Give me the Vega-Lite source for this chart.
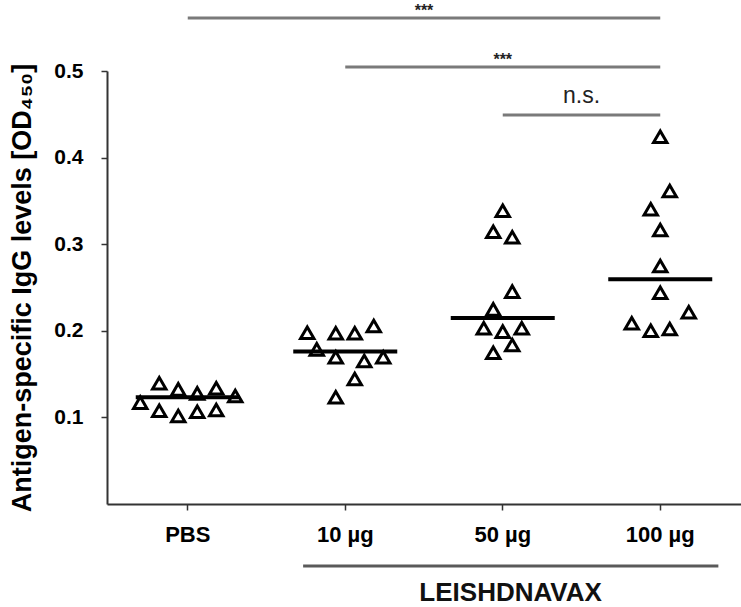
{
  "$schema": "https://vega.github.io/schema/vega-lite/v6.json",
  "autosize": {"type": "none"},
  "padding": {"left": 107, "top": 71, "right": 0, "bottom": 103},
  "width": 634,
  "height": 433,
  "background": "white",
  "config": {
    "view": {"stroke": null},
    "font": "Liberation Sans"
  },
  "datasets": {
    "points": [
      {"group": "PBS", "slot": -5, "value": 0.117},
      {"group": "PBS", "slot": -3, "value": 0.1394},
      {"group": "PBS", "slot": -3, "value": 0.1077},
      {"group": "PBS", "slot": -1, "value": 0.1324},
      {"group": "PBS", "slot": -1, "value": 0.1016},
      {"group": "PBS", "slot": 1, "value": 0.1278},
      {"group": "PBS", "slot": 1, "value": 0.1066},
      {"group": "PBS", "slot": 3, "value": 0.1336},
      {"group": "PBS", "slot": 3, "value": 0.1085},
      {"group": "PBS", "slot": 5, "value": 0.1247},
      {"group": "10 µg", "slot": -4, "value": 0.1978},
      {"group": "10 µg", "slot": -3, "value": 0.1786},
      {"group": "10 µg", "slot": -1, "value": 0.1971},
      {"group": "10 µg", "slot": -1, "value": 0.1694},
      {"group": "10 µg", "slot": -1, "value": 0.1232},
      {"group": "10 µg", "slot": 1, "value": 0.1971},
      {"group": "10 µg", "slot": 1, "value": 0.1443},
      {"group": "10 µg", "slot": 2, "value": 0.1651},
      {"group": "10 µg", "slot": 3, "value": 0.2055},
      {"group": "10 µg", "slot": 4, "value": 0.1694},
      {"group": "50 µg", "slot": 0, "value": 0.3387},
      {"group": "50 µg", "slot": -1, "value": 0.3144},
      {"group": "50 µg", "slot": 1, "value": 0.308},
      {"group": "50 µg", "slot": 1, "value": 0.2452},
      {"group": "50 µg", "slot": -1, "value": 0.2248},
      {"group": "50 µg", "slot": -2, "value": 0.2029},
      {"group": "50 µg", "slot": 0, "value": 0.199},
      {"group": "50 µg", "slot": 2, "value": 0.2029},
      {"group": "50 µg", "slot": -1, "value": 0.1747},
      {"group": "50 µg", "slot": 1, "value": 0.1836},
      {"group": "100 µg", "slot": 0, "value": 0.4241},
      {"group": "100 µg", "slot": 1, "value": 0.3614},
      {"group": "100 µg", "slot": -1, "value": 0.3403},
      {"group": "100 µg", "slot": 0, "value": 0.3164},
      {"group": "100 µg", "slot": 0, "value": 0.2748},
      {"group": "100 µg", "slot": 0, "value": 0.244},
      {"group": "100 µg", "slot": 3, "value": 0.2214},
      {"group": "100 µg", "slot": -3, "value": 0.2087},
      {"group": "100 µg", "slot": -1, "value": 0.2001},
      {"group": "100 µg", "slot": 1, "value": 0.2021}
    ],
    "medians": [
      {"group": "PBS", "median": 0.1232},
      {"group": "10 µg", "median": 0.176},
      {"group": "50 µg", "median": 0.2148},
      {"group": "100 µg", "median": 0.2595}
    ],
    "sig": [
      {"from": 1, "to": 4, "mid": 2.5, "level": 0.5612, "label": "***"},
      {"from": 2, "to": 4, "mid": 3, "level": 0.5046, "label": "***"},
      {"from": 3, "to": 4, "mid": 3.5, "level": 0.4492, "label": "n.s."}
    ],
    "bracket": [
      {"from": 1.7325, "to": 4.369, "mid": 3.05, "level": -0.0716, "textLevel": -0.112, "label": "LEISHDNAVAX"}
    ]
  },
  "layer": [
    {
      "layer": [
        {
          "data": {"name": "points"},
          "mark": {"type": "point", "shape": "triangle-up", "filled": false, "size": 180, "strokeWidth": 3, "color": "#000000", "opacity": 1},
          "encoding": {
            "x": {
              "field": "group", "type": "nominal",
              "scale": {"type": "band", "domain": ["PBS", "10 µg", "50 µg", "100 µg"], "paddingInner": 0, "paddingOuter": 0.0127},
              "axis": {
                "title": null, "labelAngle": 0,
                "labelFont": "Liberation Sans", "labelFontWeight": "bold", "labelFontSize": 22, "labelColor": "#000000",
                "labelPadding": 14, "tickSize": 6, "tickWidth": 1.5, "tickColor": "#333333",
                "domainColor": "#333333", "domainWidth": 2
              }
            },
            "xOffset": {
              "field": "slot", "type": "ordinal",
              "scale": {"type": "point", "domain": [-5, -4, -3, -2, -1, 0, 1, 2, 3, 4, 5], "range": [31.25, 126.25], "padding": 0}
            },
            "y": {
              "field": "value", "type": "quantitative",
              "scale": {"domain": [0, 0.5], "nice": false, "zero": true},
              "axis": {
                "title": "Antigen-specific IgG levels [OD₄₅₀]",
                "titleFont": "Liberation Sans", "titleFontWeight": "bold", "titleFontSize": 27, "titleColor": "#000000", "titlePadding": 17,
                "values": [0.1, 0.2, 0.3, 0.4, 0.5], "format": ".1f", "grid": false,
                "labelFont": "Liberation Sans", "labelFontWeight": "bold", "labelFontSize": 21, "labelColor": "#000000",
                "labelPadding": 18, "tickSize": 6, "tickWidth": 1.5, "tickColor": "#333333",
                "domainColor": "#333333", "domainWidth": 2
              }
            }
          }
        },
        {
          "data": {"name": "medians"},
          "mark": {"type": "tick", "size": 104, "thickness": 4, "color": "#000000", "opacity": 1},
          "encoding": {
            "x": {"field": "group", "type": "nominal", "scale": {"type": "band", "domain": ["PBS", "10 µg", "50 µg", "100 µg"], "paddingInner": 0, "paddingOuter": 0.0127}},
            "y": {"field": "median", "type": "quantitative"}
          }
        }
      ]
    },
    {
      "layer": [
        {
          "data": {"name": "sig"},
          "mark": {"type": "rule", "color": "#7a7a7a", "strokeWidth": 3},
          "encoding": {
            "x": {"field": "from", "type": "quantitative", "scale": {"domain": [0.4873, 4.5127], "nice": false, "zero": false}, "axis": null},
            "x2": {"field": "to"},
            "y": {"field": "level", "type": "quantitative"}
          }
        },
        {
          "data": {"name": "sig"},
          "transform": [{"filter": "datum.label === '***'"}],
          "mark": {"type": "text", "font": "Liberation Sans", "fontWeight": "bold", "fontSize": 16, "color": "#222222", "baseline": "alphabetic", "align": "center", "dy": -2},
          "encoding": {
            "x": {"field": "mid", "type": "quantitative"},
            "y": {"field": "level", "type": "quantitative"},
            "text": {"field": "label"}
          }
        },
        {
          "data": {"name": "sig"},
          "transform": [{"filter": "datum.label === 'n.s.'"}],
          "mark": {"type": "text", "font": "Liberation Sans", "fontSize": 23, "color": "#222222", "baseline": "alphabetic", "align": "center", "dy": -12},
          "encoding": {
            "x": {"field": "mid", "type": "quantitative"},
            "y": {"field": "level", "type": "quantitative"},
            "text": {"field": "label"}
          }
        },
        {
          "data": {"name": "bracket"},
          "mark": {"type": "rule", "color": "#5a5a5a", "strokeWidth": 3},
          "encoding": {
            "x": {"field": "from", "type": "quantitative"},
            "x2": {"field": "to"},
            "y": {"field": "level", "type": "quantitative"}
          }
        },
        {
          "data": {"name": "bracket"},
          "mark": {"type": "text", "font": "Liberation Sans", "fontWeight": "bold", "fontSize": 26, "color": "#111111", "baseline": "alphabetic", "align": "center"},
          "encoding": {
            "x": {"field": "mid", "type": "quantitative"},
            "y": {"field": "textLevel", "type": "quantitative"},
            "text": {"field": "label"}
          }
        }
      ]
    }
  ],
  "resolve": {"scale": {"x": "independent"}, "axis": {"x": "independent"}}
}
